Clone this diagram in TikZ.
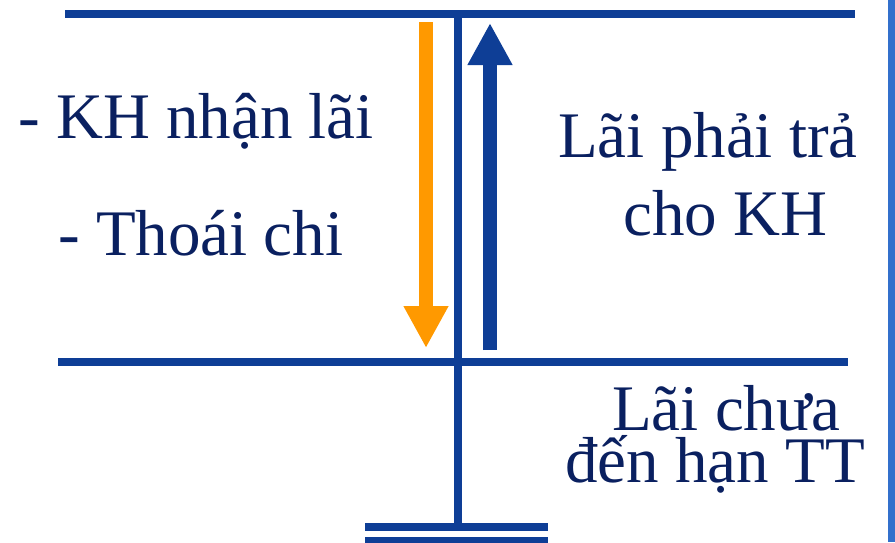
\documentclass[tikz,border=0pt]{standalone}
\usepackage{fontspec}
\setmainfont{Liberation Serif}
\usetikzlibrary{arrows.meta}

\definecolor{linecol}{RGB}{14,62,150}
\definecolor{textcol}{RGB}{10,32,96}
\definecolor{downcol}{RGB}{255,153,0}
\definecolor{edgecol}{RGB}{50,112,204}

\tikzset{
  every node/.style={inner sep=0pt, text=textcol},
  bigtext/.style={font=\fontsize{65}{70}\selectfont, anchor=base west},
  midtext/.style={font=\fontsize{65}{70}\selectfont, anchor=base west},
  bar/.style={line width=8.5pt, linecol},
  flow/.style={line width=14pt, -{Triangle[width=42pt, length=42pt]}},
}

\begin{document}
\begin{tikzpicture}[x=1pt, y=-1pt]
  % Fixed frame, one unit per pixel
  \path[use as bounding box] (0,0) rectangle (895,542);

  % Key points of the T-account.
  \coordinate (topL) at (65,14);
  \coordinate (topR) at (855,14);
  \coordinate (midL) at (58,362);
  \coordinate (midR) at (848,362);
  \coordinate (axisT) at (458,10);
  \coordinate (axisB) at (458,527);
  \coordinate (baseL) at (365,527);
  \coordinate (baseR) at (548,527);
  \coordinate (footL) at (365,541);
  \coordinate (footR) at (548,541);

  % Account lines.
  \draw[bar] (topL) -- (topR);
  \draw[bar] (midL) -- (midR);
  \draw[bar] (axisT) -- (axisB);
  \draw[bar] (baseL) -- (baseR);
  \draw[bar] (footL) -- (footR);

  % Side edge.
  \fill[edgecol] (888,0) rectangle (895,542);

  % Flows.
  \coordinate (downS) at (426,22);
  \coordinate (downE) at (426,348);
  \coordinate (upS) at (490,350);
  \coordinate (upE) at (490,23);
  \draw[flow, downcol] (downS) -- (downE);
  \draw[flow, linecol] (upS) -- (upE);

  % Labels.
  \node[bigtext] (nhanlai) at (18,138) {- KH nhận lãi};
  \node[bigtext] (thoaichi) at (58,255) {- Thoái chi};
  \node[midtext] (phaitra) at (558,157) {Lãi phải trả};
  \node[midtext] (chokh) at (623,235) {cho KH};
  \node[midtext] (chuaden) at (612,430) {Lãi chưa};
  \node[midtext] (hantt) at (565,482) {đến hạn TT};
\end{tikzpicture}
\end{document}
